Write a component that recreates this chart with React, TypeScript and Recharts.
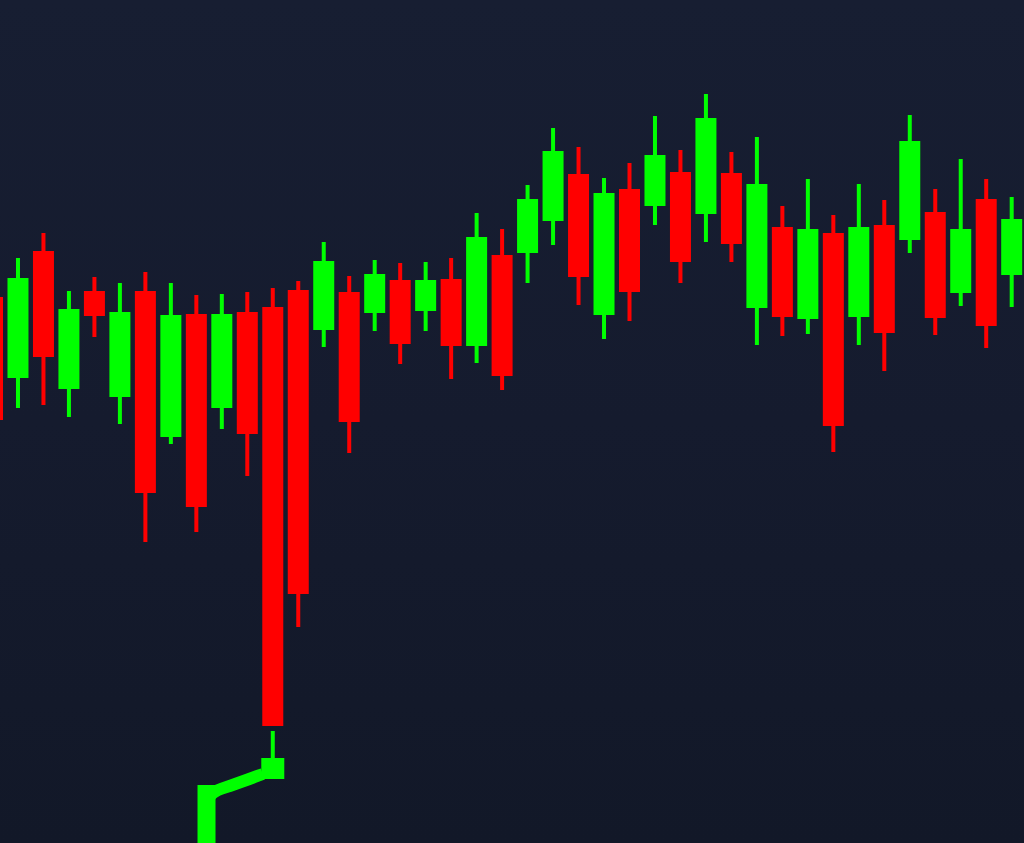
import { ComposedChart, Bar, Line, XAxis, YAxis } from "recharts";

// candle index (0 is the partial one clipped at the left edge)
const idx = [0, 1, 2, 3, 4, 5, 6, 7, 8, 9, 10, 11, 12, 13, 14, 15, 16, 17, 18, 19, 20, 21, 22, 23, 24, 25, 26, 27, 28, 29, 30, 31, 32, 33, 34, 35, 36, 37, 38, 39, 40];

const opens = [114.6, 106.5, 119.2, 105.4, 115.2, 104.6, 115.2, 100.6, 112.9, 103.5, 113.1, 113.6, 115.3, 111.3, 115.1, 113.0, 116.3, 113.2, 116.4, 109.7, 118.8, 119.0, 122.2, 126.9, 112.8, 125.4, 123.7, 127.1, 122.9, 127.0, 113.5, 121.6, 112.4, 121.0, 112.6, 121.8, 120.3, 123.1, 115.0, 124.4, 116.8];
const closes = [102.3, 116.5, 108.6, 113.4, 112.7, 113.1, 95.0, 112.8, 93.6, 112.9, 100.9, 71.7, 84.9, 118.2, 102.1, 116.9, 109.9, 116.3, 109.7, 120.6, 106.7, 124.4, 129.2, 116.6, 125.0, 115.1, 128.8, 118.1, 132.5, 119.9, 125.9, 112.6, 121.4, 101.7, 121.6, 111.0, 130.2, 112.5, 121.4, 111.7, 122.4];
const highs = [115.8, 118.5, 121.0, 115.2, 116.6, 116.0, 117.1, 116.0, 114.8, 114.9, 115.1, 115.5, 116.2, 120.1, 116.7, 118.3, 118.0, 118.1, 118.5, 123.0, 121.4, 125.8, 131.5, 129.6, 126.5, 128.0, 132.7, 129.3, 134.9, 129.1, 130.6, 123.7, 126.4, 122.8, 125.9, 124.3, 132.8, 125.4, 128.4, 126.4, 124.6];
const lows = [98.3, 103.5, 103.8, 102.6, 110.6, 101.9, 90.1, 99.9, 91.1, 101.4, 96.7, 71.7, 81.6, 109.6, 99.0, 111.2, 107.9, 111.2, 106.4, 108.0, 105.3, 116.0, 119.8, 113.8, 110.4, 112.2, 121.8, 116.0, 120.1, 118.1, 109.8, 110.7, 110.9, 99.1, 109.8, 107.2, 119.0, 110.8, 113.7, 109.5, 113.6];

// the stray green candle sitting under the long red one
const strayIdx = 11;
const strayOpen = 66.4;
const strayClose = 68.5;
const strayHigh = 71.2;
const strayLow = 66.4;

// the green trail running off the bottom edge
const stemX = [8.39, 8.39];
const stemY = [59, 65.8];
const trailX = [8.39, 8.6, 8.85, 9.3, 10.39, 10.6];
const trailY = [64.2, 64.9, 65.3, 65.7, 66.7, 66.9];

const UP = "#00ff00";
const DOWN = "#ff0000";
const SLOT = 25.48;

const data = idx.map((i, k) => ({
  i,
  open: opens[k],
  close: closes[k],
  high: highs[k],
  low: lows[k],
  gOpen: i === strayIdx ? strayOpen : null,
  gClose: i === strayIdx ? strayClose : null,
  gHigh: i === strayIdx ? strayHigh : null,
  gLow: i === strayIdx ? strayLow : null,
}));

const stem = stemX.map((i, k) => ({ n: i, v: stemY[k] }));
const trail = trailX.map((i, k) => ({ n: i, v: trailY[k] }));

type Keys = { o: string; c: string; h: string; l: string };

function makeCandle(k: Keys, bodyW: number) {
  return function Candle(props: any) {
    const { x, y, width, height, payload } = props;
    const o = payload[k.o];
    const c = payload[k.c];
    const h = payload[k.h];
    const l = payload[k.l];
    if (o == null || h === l) return null;
    const ratio = height / (h - l);
    const yo = y + (h - o) * ratio;
    const yc = y + (h - c) * ratio;
    const color = c >= o ? UP : DOWN;
    const cx = x + width / 2;
    return (
      <g>
        <rect x={cx - 2} y={y} width={4} height={height} fill={color} />
        <rect
          x={cx - bodyW / 2}
          y={Math.min(yo, yc)}
          width={bodyW}
          height={Math.max(Math.abs(yc - yo), 1)}
          fill={color}
        />
      </g>
    );
  };
}

const MainCandle = makeCandle({ o: "open", c: "close", h: "high", l: "low" }, 21);
const StrayCandle = makeCandle({ o: "gOpen", c: "gClose", h: "gHigh", l: "gLow" }, 23);

const chartW = idx.length * SLOT;

export default function App() {
  return (
    <div
      style={{
        position: "fixed",
        left: 0,
        top: 0,
        width: 1024,
        height: 843,
        overflow: "hidden",
        background: "linear-gradient(180deg, #171e32 0%, #151b2e 50%, #121828 100%)",
      }}
    >
      <div style={{ position: "absolute", left: -20.4, top: 0 }}>
        <ComposedChart width={chartW} height={843} data={data} margin={{ top: 0, right: 0, left: 0, bottom: 0 }}>
          <XAxis xAxisId="a" dataKey="i" hide />
          <XAxis xAxisId="b" dataKey="i" hide />
          <XAxis xAxisId="n" dataKey="n" type="number" domain={[-0.5, idx.length - 0.5]} allowDataOverflow hide />
          <YAxis domain={[60, 144.3]} allowDataOverflow hide />
          <Line
            xAxisId="n"
            data={stem}
            dataKey="v"
            type="linear"
            stroke={UP}
            strokeWidth={18}
            dot={false}
            activeDot={false}
            isAnimationActive={false}
          />
          <Line
            xAxisId="n"
            data={trail}
            dataKey="v"
            type="monotone"
            stroke={UP}
            strokeWidth={12}
            strokeLinejoin="round"
            dot={false}
            activeDot={false}
            isAnimationActive={false}
          />
          <Bar
            xAxisId="b"
            dataKey={(d: any) => (d.gHigh != null ? [d.gLow, d.gHigh] : null)}
            barSize={21}
            shape={StrayCandle}
            isAnimationActive={false}
          />
          <Bar
            xAxisId="a"
            dataKey={(d: any) => [d.low, d.high]}
            barSize={21}
            shape={MainCandle}
            isAnimationActive={false}
          />
        </ComposedChart>
      </div>
    </div>
  );
}
